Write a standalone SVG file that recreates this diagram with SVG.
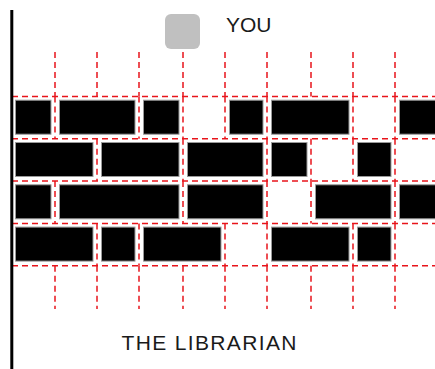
<svg xmlns="http://www.w3.org/2000/svg" width="435" height="369" viewBox="0 0 435 369">
<style>
.g{stroke:#e8141b;stroke-width:1.5;stroke-dasharray:6 4;fill:none}
.b{fill:#000;stroke:#9a9a9a;stroke-width:1}
.t{font-family:"Liberation Sans",Arial,sans-serif;font-size:21px;fill:#1a1a1a}
</style>
<rect width="435" height="369" fill="#fff"/>
<g id="grid">
<path class="g" d="M12 96.5H435M12 138.8H435M12 181.1H435M12 223.4H435M12 265.7H435"/>
<path class="g" d="M55 52V96.5M97 52V96.5M139 52V96.5M183 52V96.5M225 52V96.5M267 52V96.5M311 52V96.5M353 52V96.5M395 52V96.5"/>
<path class="g" d="M55 265.7V309M97 265.7V309M139 265.7V309M183 265.7V309M225 265.7V309M267 265.7V309M311 265.7V309M353 265.7V309M395 265.7V309"/>
<path class="g" d="M55 96.5V138.8M139 96.5V138.8M183 96.5V138.8M225 96.5V138.8M267 96.5V138.8M353 96.5V138.8M395 96.5V138.8"/>
<path class="g" d="M97 138.8V181.1M183 138.8V181.1M267 138.8V181.1M311 138.8V181.1M353 138.8V181.1M395 138.8V181.1"/>
<path class="g" d="M55 181.1V223.4M183 181.1V223.4M267 181.1V223.4M311 181.1V223.4M395 181.1V223.4"/>
<path class="g" d="M97 223.4V265.7M139 223.4V265.7M225 223.4V265.7M267 223.4V265.7M353 223.4V265.7M395 223.4V265.7"/>
</g>
<g id="bricks">
<rect class="b" x="15.5" y="100.2" width="35.5" height="34"/>
<rect class="b" x="59.5" y="100.2" width="75.5" height="34"/>
<rect class="b" x="143.5" y="100.2" width="35.5" height="34"/>
<rect class="b" x="229.5" y="100.2" width="33.5" height="34"/>
<rect class="b" x="271.5" y="100.2" width="77.5" height="34"/>
<rect class="b" x="399.5" y="100.2" width="45" height="34"/>
<rect class="b" x="15.5" y="142.5" width="77.5" height="34"/>
<rect class="b" x="101.5" y="142.5" width="77.5" height="34"/>
<rect class="b" x="187.5" y="142.5" width="75.5" height="34"/>
<rect class="b" x="271.5" y="142.5" width="35.5" height="34"/>
<rect class="b" x="357.5" y="142.5" width="33.5" height="34"/>
<rect class="b" x="15.5" y="184.8" width="35.5" height="34"/>
<rect class="b" x="59.5" y="184.8" width="119.5" height="34"/>
<rect class="b" x="187.5" y="184.8" width="75.5" height="34"/>
<rect class="b" x="315.5" y="184.8" width="75.5" height="34"/>
<rect class="b" x="399.5" y="184.8" width="45" height="34"/>
<rect class="b" x="15.5" y="227.1" width="77.5" height="34"/>
<rect class="b" x="101.5" y="227.1" width="33.5" height="34"/>
<rect class="b" x="143.5" y="227.1" width="77.5" height="34"/>
<rect class="b" x="271.5" y="227.1" width="77.5" height="34"/>
<rect class="b" x="357.5" y="227.1" width="33.5" height="34"/>
</g>
<g id="wall">
<rect x="10.3" y="10" width="3" height="359" fill="#000"/>
</g>
<g id="you">
<rect x="165" y="14" width="35" height="35" rx="6" fill="#c0c0c0"/>
<text class="t" x="226" y="31.5">YOU</text>
</g>
<g id="librarian">
<text class="t" x="121.5" y="350" letter-spacing="1.35">THE LIBRARIAN</text>
</g>
</svg>
